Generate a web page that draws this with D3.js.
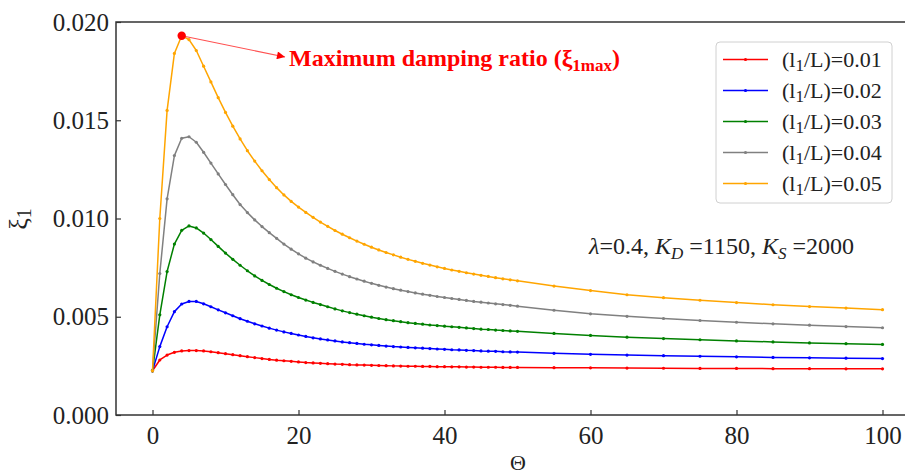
<!DOCTYPE html>
<html>
<head>
<meta charset="utf-8">
<script src="https://cdn.jsdelivr.net/npm/d3@7"></script>
<style>
  html, body { margin: 0; padding: 0; background: #fff; }
  svg { display: block; }
  text { font-family: "Liberation Serif", "Times New Roman", serif; }
</style>
</head>
<body>
<svg id="chart" width="905" height="474"></svg>
<script>
// Dimensionless parameter Θ at which ξ1 was evaluated (step 1 up to 50, then step 5)
const theta = [0,1,2,3,4,5,6,7,8,9,10,11,12,13,14,15,16,17,18,19,20,21,22,23,24,25,26,27,28,29,30,
  31,32,33,34,35,36,37,38,39,40,41,42,43,44,45,46,47,48,49,50,55,60,65,70,75,80,85,90,95,100];

// Damping ratio ξ1 for each length ratio l1/L
const xi_001 = [0.00225,0.00280,0.00305,0.00319,0.00326,0.00328,0.00328,0.00326,0.00322,0.00317,0.00312,
  0.00307,0.00302,0.00297,0.00292,0.00287,0.00283,0.00279,0.00276,0.00273,0.00270,0.00267,0.00265,0.00263,0.00261,
  0.00259,0.00258,0.00256,0.00255,0.00254,0.00253,0.00252,0.00251,0.00250,0.00249,0.00248,0.00248,0.00247,0.00247,
  0.00246,0.00246,0.00245,0.00245,0.00244,0.00244,0.00243,0.00243,0.00243,0.00242,0.00242,0.00242,
  0.00241,0.00240,0.00239,0.00238,0.00237,0.00237,0.00236,0.00236,0.00235,0.00235];

const xi_002 = [0.00225,0.00348,0.00449,0.00526,0.00565,0.00578,0.00578,0.00566,0.00551,0.00535,0.00520,
  0.00505,0.00490,0.00477,0.00464,0.00453,0.00442,0.00432,0.00423,0.00415,0.00407,0.00400,0.00393,0.00387,0.00382,
  0.00377,0.00372,0.00368,0.00364,0.00360,0.00357,0.00354,0.00351,0.00348,0.00346,0.00344,0.00342,0.00340,0.00338,
  0.00336,0.00334,0.00332,0.00331,0.00329,0.00328,0.00326,0.00325,0.00324,0.00322,0.00321,0.00320,
  0.00314,0.00309,0.00305,0.00302,0.00299,0.00296,0.00293,0.00291,0.00289,0.00287];

const xi_003 = [0.00225,0.00510,0.00730,0.00870,0.00940,0.00962,0.00952,0.00926,0.00893,0.00858,0.00824,
  0.00792,0.00762,0.00734,0.00708,0.00685,0.00664,0.00645,0.00628,0.00612,0.00598,0.00585,0.00573,0.00562,0.00551,
  0.00540,0.00530,0.00521,0.00513,0.00505,0.00498,0.00491,0.00485,0.00480,0.00475,0.00470,0.00466,0.00462,0.00458,
  0.00455,0.00452,0.00449,0.00446,0.00443,0.00440,0.00437,0.00435,0.00432,0.00430,0.00428,0.00426,
  0.00415,0.00405,0.00396,0.00389,0.00383,0.00377,0.00372,0.00367,0.00363,0.00359];

const xi_004 = [0.00225,0.00720,0.01100,0.01320,0.01408,0.01416,0.01388,0.01337,0.01282,0.01227,0.01173,
  0.01121,0.01071,0.01030,0.00993,0.00959,0.00928,0.00899,0.00870,0.00844,0.00820,0.00798,0.00779,0.00762,0.00746,
  0.00731,0.00717,0.00704,0.00692,0.00681,0.00670,0.00660,0.00651,0.00643,0.00635,0.00628,0.00621,0.00615,0.00609,
  0.00603,0.00598,0.00593,0.00588,0.00583,0.00578,0.00574,0.00570,0.00566,0.00562,0.00558,0.00554,
  0.00533,0.00515,0.00502,0.00491,0.00481,0.00472,0.00464,0.00457,0.00450,0.00444];

const xi_005 = [0.00225,0.01000,0.01550,0.01840,0.01930,0.01910,0.01855,0.01775,0.01695,0.01615,0.01540,
  0.01470,0.01405,0.01345,0.01292,0.01243,0.01198,0.01157,0.01120,0.01087,0.01058,0.01031,0.01006,0.00982,0.00960,
  0.00939,0.00920,0.00902,0.00885,0.00869,0.00854,0.00840,0.00827,0.00815,0.00803,0.00792,0.00782,0.00772,0.00763,
  0.00754,0.00746,0.00738,0.00731,0.00724,0.00717,0.00711,0.00705,0.00699,0.00693,0.00688,0.00683,
  0.00656,0.00633,0.00612,0.00597,0.00584,0.00572,0.00561,0.00552,0.00544,0.00536];

const seriesLabels = ["0.01", "0.02", "0.03", "0.04", "0.05"];
const seriesValues = [xi_001, xi_002, xi_003, xi_004, xi_005];
const seriesColors = ["red", "blue", "green", "gray", "orange"];

const xTicks = [0, 20, 40, 60, 80, 100];
const yTicks = [0.000, 0.005, 0.010, 0.015, 0.020];

const svg = d3.select("#chart");
const plotLeft = 116, plotTop = 22, plotBottom = 415, plotRight = 919;

const x = d3.scaleLinear().domain([-5, 105]).range([plotLeft, plotRight]);
const y = d3.scaleLinear().domain([0, 0.02]).range([plotBottom, plotTop]);

const defs = svg.append("defs");
defs.append("clipPath").attr("id", "plotArea")
  .append("rect").attr("x", plotLeft).attr("y", plotTop)
  .attr("width", plotRight - plotLeft).attr("height", plotBottom - plotTop);

// Axes with inward ticks
const axisColor = "#333";
const gx = svg.append("g").attr("transform", `translate(0,${plotBottom})`)
  .call(d3.axisBottom(x).tickValues(xTicks).tickFormat(d3.format("d"))
    .tickSizeInner(-5).tickSizeOuter(0).tickPadding(11));
const gy = svg.append("g").attr("transform", `translate(${plotLeft},0)`)
  .call(d3.axisLeft(y).tickValues(yTicks).tickFormat(d3.format(".3f"))
    .tickSizeInner(-5).tickSizeOuter(0).tickPadding(7));
[gx, gy].forEach(g => {
  g.select(".domain").remove();
  g.selectAll(".tick line").attr("stroke", axisColor).attr("stroke-width", 1.2);
  g.selectAll(".tick text").attr("fill", "#222").style("font-size", "25px")
    .style("font-family", "'Liberation Serif', serif");
});

// Frame
svg.append("rect").attr("x", plotLeft).attr("y", plotTop)
  .attr("width", plotRight - plotLeft).attr("height", plotBottom - plotTop)
  .attr("fill", "none").attr("stroke", axisColor).attr("stroke-width", 1.5);

// Curves with small point markers
const plot = svg.append("g").attr("clip-path", "url(#plotArea)");
const line = d3.line().x((d, i) => x(theta[i])).y(d => y(d));
seriesValues.forEach((vals, k) => {
  plot.append("path").datum(vals)
    .attr("d", line).attr("fill", "none")
    .attr("stroke", seriesColors[k]).attr("stroke-width", 1.5)
    .attr("stroke-linejoin", "round");
  plot.append("g").selectAll("circle").data(vals).join("circle")
    .attr("cx", (d, i) => x(theta[i])).attr("cy", d => y(d))
    .attr("r", 1.6).attr("fill", seriesColors[k]);
});

// Maximum of the l1/L = 0.05 curve
const maxVals = seriesValues[4];
const iMax = d3.maxIndex(maxVals);
const px = x(theta[iMax]), py = y(maxVals[iMax]);
defs.append("marker").attr("id", "arrowHead")
  .attr("viewBox", "0 0 10 10").attr("refX", 10).attr("refY", 5)
  .attr("markerWidth", 11).attr("markerHeight", 8)
  .attr("markerUnits", "userSpaceOnUse").attr("orient", "auto")
  .append("path").attr("d", "M0,0 L10,5 L0,10 z").attr("fill", "red");
svg.append("line").attr("x1", px).attr("y1", py).attr("x2", 285).attr("y2", 57)
  .attr("stroke", "#ff5050").attr("stroke-width", 1.1).attr("marker-end", "url(#arrowHead)");
svg.append("circle").attr("cx", px).attr("cy", py).attr("r", 4.2).attr("fill", "red");

const ann = svg.append("text").attr("x", 289).attr("y", 66)
  .attr("fill", "red").style("font-weight", "bold").style("font-size", "24px");
ann.append("tspan").text("Maximum damping ratio (ξ");
ann.append("tspan").attr("dy", 5).style("font-size", "17px").text("1max");
ann.append("tspan").attr("dy", -5).text(")");

// Parameter note
const note = svg.append("text").attr("x", 589).attr("y", 254)
  .attr("fill", "#222").style("font-size", "24px");
note.append("tspan").style("font-style", "italic").text("λ");
note.append("tspan").text("=0.4, ");
note.append("tspan").style("font-style", "italic").text("K");
note.append("tspan").attr("dy", 5).style("font-style", "italic").style("font-size", "17px").text("D");
note.append("tspan").attr("dy", -5).text(" =1150, ");
note.append("tspan").style("font-style", "italic").text("K");
note.append("tspan").attr("dy", 5).style("font-style", "italic").style("font-size", "17px").text("S");
note.append("tspan").attr("dy", -5).text(" =2000");

// Axis titles
svg.append("text").attr("x", 518).attr("y", 470).attr("text-anchor", "middle")
  .attr("fill", "#222").style("font-size", "22px").text("Θ");
const yl = svg.append("text").attr("transform", "translate(27,219) rotate(-90)")
  .attr("text-anchor", "middle").attr("fill", "#222").style("font-size", "26px");
yl.append("tspan").text("ξ");
yl.append("tspan").attr("dy", 4).style("font-size", "20px").text("1");

// Legend
const lg = svg.append("g");
lg.append("rect").attr("x", 716).attr("y", 42).attr("width", 176).attr("height", 161)
  .attr("rx", 4).attr("fill", "white").attr("stroke", "#d0d0d0").attr("stroke-width", 1);
seriesLabels.forEach((lab, k) => {
  const ry = 59.5 + k * 31;
  lg.append("line").attr("x1", 723).attr("x2", 768).attr("y1", ry).attr("y2", ry)
    .attr("stroke", seriesColors[k]).attr("stroke-width", 1.5);
  lg.append("circle").attr("cx", 745.5).attr("cy", ry).attr("r", 1.6).attr("fill", seriesColors[k]);
  const t = lg.append("text").attr("x", 782).attr("y", ry + 7)
    .attr("fill", "#222").style("font-size", "22px");
  t.append("tspan").text("(l");
  t.append("tspan").attr("dy", 4).style("font-size", "17px").text("1");
  t.append("tspan").attr("dy", -4).text("/L)=" + lab);
});
</script>
</body>
</html>
